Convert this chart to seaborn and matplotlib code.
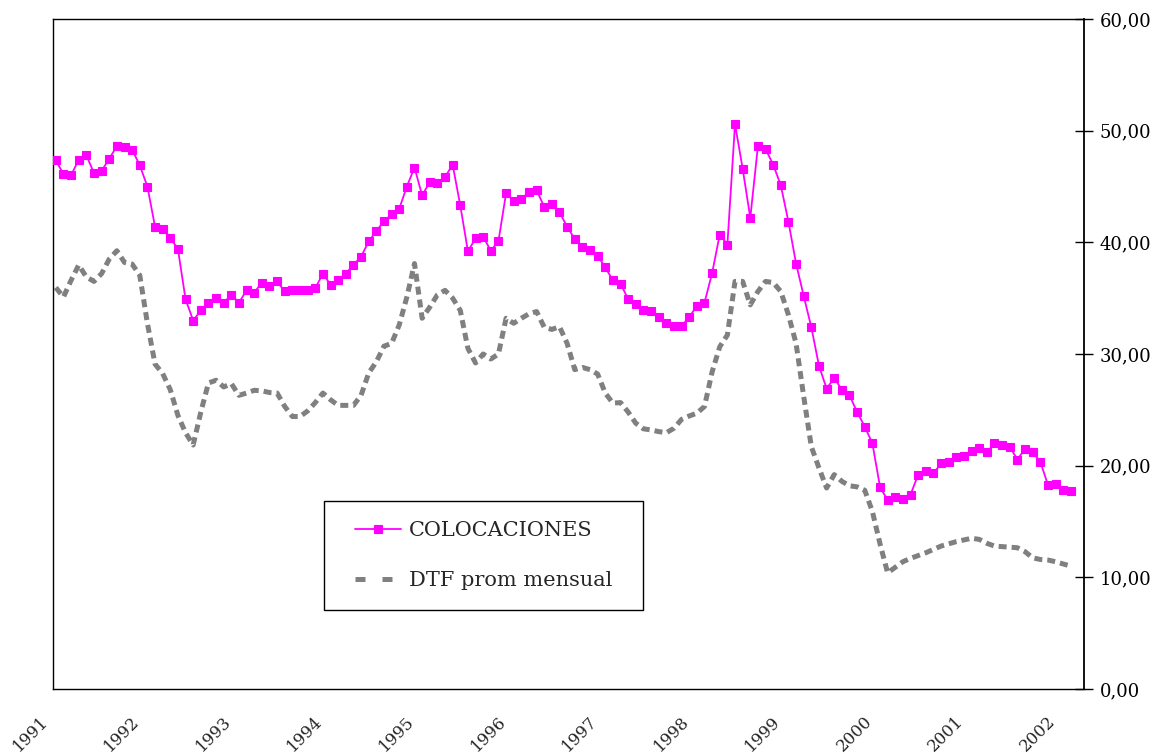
import numpy as np
import pandas as pd
import matplotlib
matplotlib.use("Agg")
import matplotlib.pyplot as plt
import seaborn as sns
from matplotlib import transforms
from matplotlib.patches import Rectangle, Shadow

# ---------------- data (monthly, Jan 1991 - Feb 2002) ----------------
years = ["1991", "1992", "1993", "1994", "1995", "1996",
         "1997", "1998", "1999", "2000", "2001", "2002"]

colocaciones = [
    47.35, 46.1, 46.0, 47.4, 47.8, 46.2, 46.4, 47.5, 48.6, 48.5, 48.3, 46.9,
    45.0, 41.4, 41.2, 40.4, 39.4, 34.9, 33.0, 33.9, 34.6, 35.0, 34.6, 35.3,
    34.6, 35.7, 35.5, 36.4, 36.1, 36.5, 35.6, 35.7, 35.7, 35.7, 35.9, 37.2,
    36.2, 36.6, 37.2, 38.0, 38.7, 40.1, 41.0, 41.9, 42.5, 43.0, 45.0, 46.7,
    44.2, 45.4, 45.3, 45.85, 46.95, 43.3, 39.2, 40.35, 40.5, 39.25, 40.1, 44.4,
    43.7, 43.9, 44.5, 44.65, 43.2, 43.4, 42.7, 41.4, 40.3, 39.6, 39.3, 38.8,
    37.75, 36.6, 36.3, 34.9, 34.5, 33.9, 33.85, 33.3, 32.8, 32.5, 32.5, 33.3,
    34.3, 34.6, 37.25, 40.7, 39.8, 50.6, 46.6, 42.2, 48.6, 48.35, 46.97, 45.1,
    41.85, 38.1, 35.2, 32.4, 28.95, 26.9, 27.85, 26.8, 26.3, 24.8, 23.5, 22.0,
    18.1, 16.9, 17.2, 17.05, 17.4, 19.2, 19.5, 19.3, 20.2, 20.3, 20.8, 20.9,
    21.3, 21.6, 21.2, 22.0, 21.85, 21.7, 20.55, 21.5, 21.2, 20.35, 18.3, 18.35,
    17.8, 17.7,
]

dtf = [
    35.95, 35.1, 36.6, 37.97, 36.9, 36.5, 37.2, 38.5, 39.25, 38.2, 38.05, 37.05,
    32.75, 29.1, 28.25, 26.8, 24.5, 22.95, 21.85, 24.8, 27.4, 27.65, 27.05, 27.35,
    26.3, 26.5, 26.75, 26.7, 26.55, 26.5, 25.3, 24.4, 24.4, 24.9, 25.65, 26.5,
    25.9, 25.4, 25.4, 25.4, 26.3, 28.3, 29.3, 30.7, 30.95, 32.6, 35.1, 38.1,
    33.2, 34.2, 35.3, 35.7, 35.0, 33.9, 30.5, 29.2, 30.0, 29.55, 30.0, 33.2,
    32.75, 33.2, 33.6, 33.8, 32.4, 32.2, 32.45, 30.95, 28.6, 28.8, 28.6, 28.2,
    26.5, 25.6, 25.65, 24.8, 23.8, 23.3, 23.2, 23.05, 22.95, 23.35, 24.15, 24.45,
    24.7, 25.3, 28.4, 30.65, 31.7, 36.5, 36.5, 34.4, 35.6, 36.5, 36.4, 35.6,
    33.5, 30.95, 26.2, 21.7, 19.8, 18.0, 19.2, 18.6, 18.2, 18.1, 17.8, 15.9,
    13.0, 10.4, 10.9, 11.4, 11.7, 11.95, 12.2, 12.5, 12.8, 13.0, 13.2, 13.35,
    13.5, 13.4, 13.05, 12.8, 12.75, 12.7, 12.65, 12.3, 11.75, 11.6, 11.55, 11.4,
    11.2, 11.0,
]

y_ticks = [0, 10, 20, 30, 40, 50, 60]
y_tick_labels = ["0,00", "10,00", "20,00", "30,00", "40,00", "50,00", "60,00"]

month = np.arange(len(colocaciones))
df = pd.DataFrame({"mes": month, "COLOCACIONES": colocaciones,
                   "DTF prom mensual": dtf})

# ---------------- figure ----------------
sns.set_style("white")
plt.rcParams["font.family"] = ["DejaVu Serif"]

W, H = 1166, 754
fig = plt.figure(figsize=(W / 100, H / 100), dpi=100)
ax = fig.add_axes([53.3 / W, 1 - 689 / H, (1084 - 53.3) / W, 670 / H])

sns.lineplot(data=df, x="mes", y="COLOCACIONES", ax=ax, color="#FF00FF",
             lw=1.3, marker="s", markersize=5.2, markeredgecolor="#FF00FF",
             markeredgewidth=0.8, label="COLOCACIONES", zorder=3)
sns.lineplot(data=df, x="mes", y="DTF prom mensual", ax=ax, color="#808080",
             lw=3.6, linestyle=(0, (1.6, 1.0)), dash_capstyle="butt",
             label="DTF prom mensual", zorder=2)

ax.set_xlabel("")
ax.set_ylabel("")

# y axis on the right
ax.set_ylim(0, 60)
ax.yaxis.tick_right()
ax.set_yticks(y_ticks)
ax.set_yticklabels(y_tick_labels)
ax.tick_params(axis="y", which="both", direction="inout", length=13, width=1,
               labelsize=13, pad=5, colors="black", left=False, right=True)

# x axis: year labels every 12 months
ax.set_xlim(-0.33, 134.73)
ax.set_xticks(month[::12])
ax.set_xticklabels(years, rotation=45, ha="right", va="center",
                   rotation_mode="anchor", fontsize=12)
ax.tick_params(axis="x", length=0, pad=21.5)
offset = transforms.ScaledTranslation(-10.5 / 100, 0, fig.dpi_scale_trans)
for lab in ax.get_xticklabels():
    lab.set_transform(lab.get_transform() + offset)

for s in ax.spines.values():
    s.set_visible(True)
    s.set_color("black")
    s.set_linewidth(1.0)
ax.spines["right"].set_linewidth(1.3)
ax.grid(False)

# legend box with shadow
box = Rectangle((0.2626, 0.1179), 0.3095, 0.1627, transform=ax.transAxes,
                facecolor="white", edgecolor="black", lw=1.0, zorder=5)
shadow = Shadow(box, 2.2, -2.2, color="black", alpha=1, zorder=4)
ax.add_patch(shadow)
ax.add_patch(box)

leg = ax.legend(loc="center", bbox_to_anchor=(0.4174, 0.1993), frameon=False,
                prop={"family": "DejaVu Serif", "size": 15},
                handlelength=2.2, handletextpad=0.4, labelspacing=1.5,
                borderpad=0.2)
leg.set_zorder(6)
leg.get_lines()[1].set_linestyle((0, (2.0, 3.4)))

fig.savefig("out.png", dpi=100, facecolor="white")
